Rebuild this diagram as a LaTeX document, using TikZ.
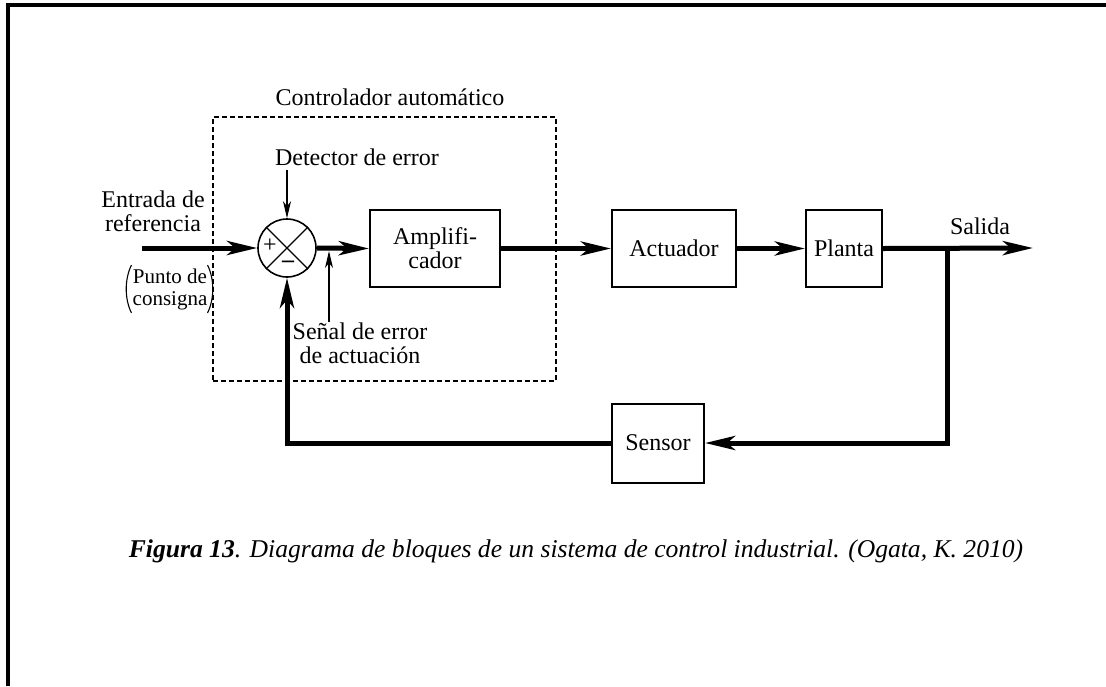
\documentclass[tikz,border=0pt]{standalone}
\usepackage{fontspec}
\setmainfont{Liberation Serif}
\usetikzlibrary{arrows.meta}
\begin{document}
\begin{tikzpicture}[x=1pt,y=-1pt,
  every node/.style={font=\fontsize{24}{24}\selectfont, inner sep=0pt},
  blockbox/.style={draw, line width=2pt, minimum height=77pt, align=center},
  sig/.style={line width=5pt, -{Stealth[length=30pt,width=14pt,inset=8pt]}},
  thinarrow/.style={line width=1.2pt, -{Stealth[length=17pt,width=8pt,inset=5pt]}},
  paren/.style={line width=1.1pt},
  lbl/.style={align=center}]
\useasboundingbox (0,0) rectangle (1106,686);
% frame
\draw[line width=4pt] (8,686) -- (8,5) -- (1106,5);

% controller boundary
\node[draw, dashed, dash pattern=on 5pt off 3pt, line width=1.2pt,
      minimum width=343pt, minimum height=264pt] (ctrl) at (384.5,249) {};
\node[lbl] (ctrllbl) at (390,97) {Controlador automático};

% summing junction
\node[draw, circle, line width=1.6pt, minimum size=58pt] (sum) at (287,248) {};
\draw[line width=1.2pt] (sum.north west) -- (sum.south east)
                        (sum.north east) -- (sum.south west);
\node[font=\fontsize{24}{24}\selectfont] (plus) at (270,246) {+};
\node[font=\fontsize{24}{24}\selectfont\bfseries] (minus) at (288,264) {–};

% blocks
\node[blockbox, minimum width=130pt] (amp) at (435,248.5) {Amplifi-\\cador};
\node[blockbox, minimum width=124pt] (act) at (674,248.5) {Actuador};
\node[blockbox, minimum width=76pt]  (plant) at (844,248.5) {Planta};
\node[blockbox, minimum width=92pt, minimum height=79pt] (sens) at (658,443) {Sensor};

% labels
\node[lbl] (det) at (357,157) {Detector de error};
\node[lbl] (ent) at (153,211) {Entrada de\\referencia};
\node[lbl, font=\fontsize{21}{22}\selectfont] (pto) at (170,289) {Punto de\\consigna};
% parentheses round the set-point label
\draw[paren] ([xshift=-1pt,yshift=-24pt]pto.west)
  .. controls ([xshift=-8pt,yshift=-10pt]pto.west) and ([xshift=-8pt,yshift=10pt]pto.west)
  .. ([xshift=-1pt,yshift=24pt]pto.west);
\draw[paren] ([xshift=0pt,yshift=-24pt]pto.east)
  .. controls ([xshift=7pt,yshift=-10pt]pto.east) and ([xshift=7pt,yshift=10pt]pto.east)
  .. ([xshift=0pt,yshift=24pt]pto.east);
\node[lbl] (senal) at (360,343) {Señal de error\\de actuación};
\node[lbl] (sal) at (980,226) {Salida};

% signal points
\coordinate (inp) at (142,248);
\coordinate (outp) at (1033,248);
\coordinate (branch) at (947,248);
\coordinate (detsrc) at (287,170);
\coordinate (errsrc) at (329,322);
\coordinate (errtip) at (329,251);

% forward path
\draw[sig] (inp) -- (sum.west);
\draw[sig] (sum.east) -- (amp.west);
\draw[sig] (amp.east) -- (act.west);
\draw[sig] (act.east) -- (plant.west);
\draw[sig] (plant.east) -- (outp);

% feedback path
\draw[sig] (branch) |- (sens.east);
\draw[sig] (sens.west) -| (sum.south);

% annotation arrows
\draw[thinarrow] (detsrc) -- (sum.north);
\draw[thinarrow] (errsrc) -- (errtip);

% caption
\node[font=\fontsize{25.6}{27}\selectfont\itshape] (cap) at (576,551)
  {\textbf{Figura 13}. Diagrama de bloques de un sistema de control industrial. (Ogata, K. 2010)};
\end{tikzpicture}
\end{document}
